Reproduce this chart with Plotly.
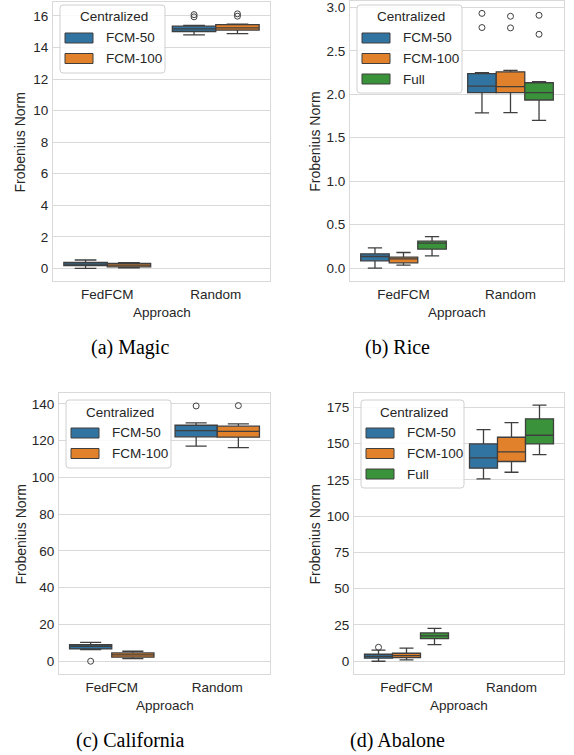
import plotly.graph_objects as go

W, H = 574, 755

approaches = ["FedFCM", "Random"]
colors = {"FCM-50": "#3274a1", "FCM-100": "#e1812c", "Full": "#3a923a"}

# five-number summaries per approach: [FedFCM, Random]
magic = {
    "FCM-50":  dict(lower=[0.00, 14.80], q1=[0.17, 15.01], median=[0.27, 15.18], q3=[0.38, 15.35], upper=[0.53, 15.39], outliers=[[], [15.94, 16.08]]),
    "FCM-100": dict(lower=[0.04, 14.87], q1=[0.10, 15.10], median=[0.21, 15.24], q3=[0.32, 15.45], upper=[0.36, 15.47], outliers=[[], [15.98, 16.13]]),
}
rice = {
    "FCM-50":  dict(lower=[0.000, 1.785], q1=[0.084, 2.018], median=[0.134, 2.094], q3=[0.164, 2.236], upper=[0.233, 2.247], outliers=[[], [2.767, 2.930]]),
    "FCM-100": dict(lower=[0.034, 1.788], q1=[0.061, 2.018], median=[0.107, 2.087], q3=[0.126, 2.258], upper=[0.180, 2.274], outliers=[[], [2.763, 2.897]]),
    "Full":    dict(lower=[0.141, 1.700], q1=[0.218, 1.934], median=[0.287, 2.018], q3=[0.310, 2.132], upper=[0.363, 2.144], outliers=[[], [2.690, 2.908]]),
}
california = {
    "FCM-50":  dict(lower=[6.35, 117.0], q1=[6.7, 122.1], median=[8.16, 125.5], q3=[9.07, 128.4], upper=[10.3, 129.7], outliers=[[0.0], [138.9]]),
    "FCM-100": dict(lower=[1.45, 116.2], q1=[2.18, 121.9], median=[3.45, 125.1], q3=[4.53, 127.9], upper=[5.44, 129.1], outliers=[[], [139.1]]),
}
abalone = {
    "FCM-50":  dict(lower=[0.0, 125.6], q1=[2.1, 133.0], median=[3.4, 140.1], q3=[4.8, 149.7], upper=[7.6, 159.6], outliers=[[9.6], []]),
    "FCM-100": dict(lower=[0.9, 130.2], q1=[2.5, 137.6], median=[3.9, 144.2], q3=[5.5, 154.3], upper=[9.0, 164.4], outliers=[[], []]),
    "Full":    dict(lower=[11.5, 142.4], q1=[15.6, 149.7], median=[17.5, 155.7], q3=[19.5, 167.0], upper=[22.7, 176.4], outliers=[[], []]),
}

magic_ticks = [0, 2, 4, 6, 8, 10, 12, 14, 16]
rice_ticks = [0.0, 0.5, 1.0, 1.5, 2.0, 2.5, 3.0]
california_ticks = [0, 20, 40, 60, 80, 100, 120, 140]
abalone_ticks = [0, 25, 50, 75, 100, 125, 150, 175]

captions = ["(a) Magic", "(b) Rice", "(c) California", "(d) Abalone"]

# panel pixel boxes: (left, right, top, bottom), y-title x, caption center
panels = [
    dict(data=magic, ticks=magic_ticks, fmt="{:d}", rng=[-0.80, 16.88], box=(53, 270, 2, 281), ytx=20, cap=(130, 347)),
    dict(data=rice, ticks=rice_ticks, fmt="{:.1f}", rng=[-0.148, 3.077], box=(350, 564, 0.6, 281), ytx=315, cap=(397, 347)),
    dict(data=california, ticks=california_ticks, fmt="{:d}", rng=[-6.95, 145.95], box=(59, 270, 393, 674), ytx=20, cap=(130, 740)),
    dict(data=abalone, ticks=abalone_ticks, fmt="{:d}", rng=[-8.8, 184.8], box=(354, 564, 393, 674), ytx=314, cap=(397, 740)),
]

TXT = "#262626"
GRID = "#d9d9d9"
EDGE = "#3f3f3f"
FONT = "Liberation Sans, Arial, sans-serif"
FS = 13.5

fig = go.Figure()
layout = {}
shapes = []
annotations = []

def px(x):
    return x / W

def py(y):
    return 1 - y / H

def rounded_rect(x0, y0, x1, y1, rr=3):
    # path in paper coords from pixel box
    pts = [
        f"M{px(x0 + rr)},{py(y0)}", f"L{px(x1 - rr)},{py(y0)}", f"Q{px(x1)},{py(y0)} {px(x1)},{py(y0 + rr)}",
        f"L{px(x1)},{py(y1 - rr)}", f"Q{px(x1)},{py(y1)} {px(x1 - rr)},{py(y1)}",
        f"L{px(x0 + rr)},{py(y1)}", f"Q{px(x0)},{py(y1)} {px(x0)},{py(y1 - rr)}",
        f"L{px(x0)},{py(y0 + rr)}", f"Q{px(x0)},{py(y0)} {px(x0 + rr)},{py(y0)}", "Z",
    ]
    return " ".join(pts)

for i, p in enumerate(panels):
    k = "" if i == 0 else str(i + 1)
    xa, ya = "x" + k, "y" + k
    for name, s in p["data"].items():
        # rows with no outliers get a single missing value so each row stays non-empty
        pts = [row if len(row) else [None] for row in s["outliers"]]
        fig.add_trace(go.Box(
            x=approaches, q1=s["q1"], median=s["median"], q3=s["q3"],
            lowerfence=s["lower"], upperfence=s["upper"], y=pts,
            boxpoints="outliers", jitter=0, pointpos=0,
            name=name, fillcolor=colors[name],
            alignmentgroup="panel%d" % i, offsetgroup=name,
            line=dict(color=EDGE, width=1.3),
            marker=dict(symbol="circle-open", color=EDGE, size=6, line=dict(width=1)),
            whiskerwidth=0.5, showlegend=False, xaxis=xa, yaxis=ya,
            hoverinfo="skip",
        ))
    l, r, t, b = p["box"]
    layout["xaxis" + k] = dict(
        domain=[px(l), px(r)], anchor=ya, showgrid=False, showline=True, mirror=True,
        linecolor=GRID, linewidth=1, ticks="", tickfont=dict(size=FS, color=TXT, family=FONT),
        categoryorder="array", categoryarray=approaches, range=[-0.5, 1.5], fixedrange=True,
        ticklabelstandoff=1,
    )
    layout["yaxis" + k] = dict(
        domain=[py(b), py(t)], anchor=xa, range=p["rng"], tickvals=p["ticks"],
        ticktext=[p["fmt"].format(v) for v in p["ticks"]],
        showgrid=True, gridcolor=GRID, gridwidth=1, zeroline=False, showline=True, mirror=True,
        linecolor=GRID, linewidth=1, ticks="", tickfont=dict(size=FS, color=TXT, family=FONT),
        ticklabelstandoff=1, fixedrange=True, ticklabeloverflow="allow",
    )
    # axis titles
    annotations.append(dict(text="Approach", x=px((l + r) / 2), y=py(b + 31), xref="paper", yref="paper",
                            showarrow=False, font=dict(size=FS, color=TXT, family=FONT), xanchor="center", yanchor="middle"))
    annotations.append(dict(text="Frobenius Norm", x=px(p["ytx"]), y=py((t + b) / 2 + 1), xref="paper", yref="paper",
                            showarrow=False, textangle=-90, font=dict(size=14, color=TXT, family=FONT),
                            xanchor="center", yanchor="middle"))
    # caption
    annotations.append(dict(text=captions[i], x=px(p["cap"][0]), y=py(p["cap"][1]),
                            xref="paper", yref="paper", showarrow=False,
                            font=dict(size=20, color="black", family="Liberation Serif, Times New Roman, serif"),
                            xanchor="center", yanchor="middle"))
    # legend (drawn)
    names = list(p["data"].keys())
    lx = l + 7
    ltop = 5 if i < 2 else t + 7
    lw = 105 if i != 3 else 103
    lh = 24 + 20 * len(names) + 4
    shapes.append(dict(type="path", xref="paper", yref="paper", path=rounded_rect(lx, ltop, lx + lw, ltop + lh),
                       fillcolor="rgba(255,255,255,0.85)", line=dict(color="#d0d0d0", width=1), layer="above"))
    annotations.append(dict(text="Centralized", x=px(lx + lw / 2 + 1), y=py(ltop + 12), xref="paper", yref="paper",
                            showarrow=False, font=dict(size=FS, color=TXT, family=FONT), xanchor="center", yanchor="middle"))
    for j, nm in enumerate(names):
        cy = ltop + 33 + 20.5 * j
        shapes.append(dict(type="rect", xref="paper", yref="paper", x0=px(lx + 5), x1=px(lx + 33),
                           y0=py(cy + 5), y1=py(cy - 5), fillcolor=colors[nm], line=dict(color=EDGE, width=1), layer="above"))
        annotations.append(dict(text=nm, x=px(lx + 44), y=py(cy), xref="paper", yref="paper", showarrow=False,
                                font=dict(size=FS, color=TXT, family=FONT), xanchor="left", yanchor="middle"))

fig.update_layout(
    width=W, height=H, margin=dict(l=0, r=0, t=0, b=0),
    paper_bgcolor="white", plot_bgcolor="white",
    boxmode="group", boxgap=0.2, boxgroupgap=0,
    shapes=shapes, annotations=annotations, showlegend=False,
    **layout,
)

fig.write_html("out.html", config={"displayModeBar": False, "staticPlot": True},
               post_script="document.body.style.margin='0';document.body.style.overflow='hidden';")
